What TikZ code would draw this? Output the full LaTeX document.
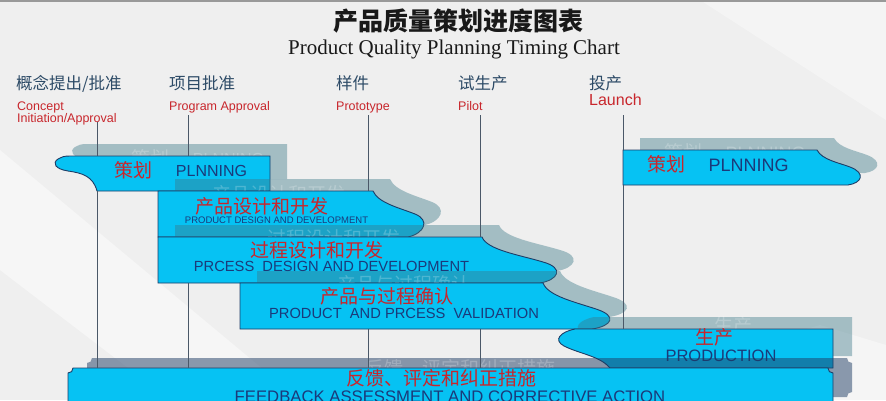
\documentclass[tikz,border=0pt]{standalone}
\usepackage{fontspec}
\setmainfont{Liberation Sans}
\newfontfamily\cjk{Noto Sans CJK SC}
\newfontfamily\tms{Liberation Serif}
\definecolor{bgc}{HTML}{EFEFEF}
\definecolor{cy}{HTML}{06C2F3}
\definecolor{edge}{HTML}{1E3C66}
\definecolor{cred}{HTML}{C8262C}
\definecolor{navy}{HTML}{1B3A7A}
\definecolor{lbl}{HTML}{2C4A66}
\definecolor{vline}{HTML}{4A5868}
\definecolor{shd}{HTML}{3C7888}
\definecolor{shdfb}{HTML}{1E3C64}
\tikzset{
 boxfill/.style={fill=cy, draw=edge, line width=0.9pt},
 shadowfill/.style={fill=shd, fill opacity=0.42},
 fbshadow/.style={fill=shdfb, fill opacity=0.5},
 cn/.style={inner sep=0pt, text=cred, font=\cjk\fontsize{19}{19}\selectfont},
 en/.style={inner sep=0pt, text=navy},
 ghost/.style={inner sep=0pt, text=white, text opacity=0.22},
 ghostcn/.style={ghost, font=\cjk\fontsize{19}{19}\selectfont},
 vl/.style={draw=vline, line width=1pt},
 ms/.style={inner sep=0pt, text=lbl, font=\cjk\fontsize{16.5}{16.5}\selectfont},
 rl/.style={inner sep=0pt, text=cred, font=\fontsize{12.5}{12.5}\selectfont},
}
\newcommand\planLpath{(97,191) .. controls (93,176) and (82,173) .. (68,171) .. controls (55,169) and (52,163) .. (58,159) .. controls (61,157) and (64,156) .. (70,156) -- (270,156) -- (270,191) -- cycle}
\newcommand\prodpath{(158,191) -- (373,191) .. controls (378,203) and (400,208) .. (415,214) .. controls (430,220) and (425,233) .. (408,237) -- (158,237) -- cycle}
\newcommand\procpath{(158,237) -- (482,237) .. controls (487,250) and (520,255) .. (543,262) .. controls (565,268) and (558,280) .. (540,283) -- (158,283) -- cycle}
\newcommand\valpath{(240,283) -- (543,283) .. controls (548,296) and (575,302) .. (596,309) .. controls (618,316) and (612,326) .. (592,329) -- (240,329) -- cycle}
\newcommand\launchpath{(623,150) -- (817,150) .. controls (822,160) and (840,163) .. (850,167) .. controls (866,173) and (862,183) .. (848,185) -- (623,185) -- cycle}
\newcommand\prdnpath{(833,329) -- (575,329) .. controls (560,332) and (553,340) .. (564,346) .. controls (580,354) and (600,356) .. (610,368) -- (833,368) -- cycle}
\newcommand\fbpath{(73,368) -- (828,368) .. controls (828,371) and (830,373) .. (833,373) -- (833,402) .. controls (830,402) and (828,404) .. (828,407) -- (73,407) .. controls (73,404) and (71,402) .. (68,402) -- (68,373) .. controls (71,373) and (73,371) .. (73,368) -- cycle}
\begin{document}
\begin{tikzpicture}[x=1pt,y=-1pt]
\useasboundingbox (0,0) rectangle (886,400);
\clip (0,0) rectangle (886,400);
\fill[bgc] (0,0) rectangle (886,400);
\fill[white, opacity=0.45] (0,150) -- (300,400) -- (170,400) -- (0,270) -- cycle;
\fill[white, opacity=0.4] (560,400) -- (820,325) -- (886,345) -- (886,400) -- cycle;
\fill[white, opacity=0.35] (700,0) -- (886,0) -- (886,120) -- cycle;
\fill[gray!80] (0,0) rectangle (886,2);
% titles
\node[inner sep=0pt, font=\cjk\bfseries\fontsize{25}{25}\selectfont, text=black!90] (title) at (458,21) {产品质量策划进度图表};
\node[inner sep=0pt, font=\tms\fontsize{21}{21}\selectfont, text=black!90] (subtitle) at (454,49) {Product Quality Planning Timing Chart};
% milestones
\node[ms, anchor=west] (m1) at (16,83.5) {概念提出/批准};
\node[rl, anchor=base west] (m1a) at (17,110) {Concept};
\node[rl, anchor=base west] (m1b) at (17,122.5) {Initiation/Approval};
\node[ms, anchor=west] (m2) at (169,83.5) {项目批准};
\node[rl, anchor=base west] (m2a) at (169,110) {Program Approval};
\node[ms, anchor=west] (m3) at (336,83.5) {样件};
\node[rl, anchor=base west] (m3a) at (336,110) {Prototype};
\node[ms, anchor=west] (m4) at (458,83.5) {试生产};
\node[rl, anchor=base west] (m4a) at (458,110) {Pilot};
\node[ms, anchor=west] (m5) at (589,83.5) {投产};
\node[rl, anchor=base west, font=\fontsize{16}{16}\selectfont] (m5a) at (589,105.5) {Launch};
% planning (left)
\begin{scope}[shift={(17,-12)}]
\fill[shadowfill] \planLpath;
\node[ghostcn] (g1a) at (133.5,170) {策划};
\node[ghost, font=\fontsize{16}{16}\selectfont] (g1b) at (211.5,171) {PLNNING};
\end{scope}
\draw[boxfill] \planLpath;
\node[cn] (p1a) at (133.5,170) {策划};
\node[en, font=\fontsize{16}{16}\selectfont] (p1b) at (211.5,171) {PLNNING};
% product design
\begin{scope}[shift={(17,-12)}]
\fill[shadowfill] \prodpath;
\node[ghostcn] (g2a) at (261.5,206) {产品设计和开发};
\end{scope}
\draw[boxfill] \prodpath;
\node[cn] (p2a) at (261.5,206) {产品设计和开发};
\node[en, font=\fontsize{9.5}{9.5}\selectfont] (p2b) at (276.5,220.5) {PRODUCT DESIGN AND DEVELOPMENT};
% process design
\begin{scope}[shift={(17,-12)}]
\fill[shadowfill] \procpath;
\node[ghostcn] (g3a) at (316.5,250) {过程设计和开发};
\end{scope}
\draw[boxfill] \procpath;
\node[cn] (p3a) at (316.5,250) {过程设计和开发};
\node[en, font=\fontsize{14.7}{14.7}\selectfont] (p3b) at (331.5,266) {PRCESS\ \ DESIGN AND DEVELOPMENT};
% validation
\begin{scope}[shift={(17,-12)}]
\fill[shadowfill] \valpath;
\node[ghostcn] (g4a) at (386.5,296) {产品与过程确认};
\end{scope}
\draw[boxfill] \valpath;
\node[cn] (p4a) at (386.5,296) {产品与过程确认};
\node[en, font=\fontsize{14.7}{14.7}\selectfont] (p4b) at (404,313) {PRODUCT\ \ AND PRCESS\ \ VALIDATION};
% launch planning
\begin{scope}[shift={(17,-12)}]
\fill[shadowfill] \launchpath;
\node[ghostcn] (g5a) at (666,164) {策划};
\node[ghost, font=\fontsize{18}{18}\selectfont] (g5b) at (748.5,165) {PLNNING};
\end{scope}
\draw[boxfill] \launchpath;
\node[cn] (p5a) at (666,164) {策划};
\node[en, font=\fontsize{18}{18}\selectfont] (p5b) at (748.5,165) {PLNNING};
% production
\begin{scope}[shift={(19,-12)}]
\fill[shadowfill] \prdnpath;
\node[ghostcn] (g6a) at (714,337) {生产};
\end{scope}
\draw[boxfill] \prdnpath;
\node[cn] (p6a) at (714,337) {生产};
\node[en, font=\fontsize{16.5}{16.5}\selectfont] (p6b) at (721,356) {PRODUCTION};
% feedback
\begin{scope}[shift={(19,-10)}]
\fill[fbshadow] \fbpath;
\node[ghostcn] (g7a) at (441,378) {反馈、评定和纠正措施};
\end{scope}
\draw[boxfill] \fbpath;
\node[cn] (p7a) at (441,378) {反馈、评定和纠正措施};
\node[en, font=\fontsize{16.7}{16.7}\selectfont] (p7b) at (450,397) {FEEDBACK ASSESSMENT AND CORRECTIVE ACTION};
% milestone lines (visible segments)
\coordinate (a1) at (97,122); \coordinate (a2) at (97,156);
\coordinate (a3) at (97,191); \coordinate (a4) at (97,368);
\draw[vl] (a1) -- (a2); \draw[vl] (a3) -- (a4);
\coordinate (b1) at (188,115); \coordinate (b2) at (188,156);
\coordinate (b3) at (188,283); \coordinate (b4) at (188,368);
\draw[vl] (b1) -- (b2); \draw[vl] (b3) -- (b4);
\coordinate (c1) at (368,115); \coordinate (c2) at (368,191);
\coordinate (c3) at (368,329); \coordinate (c4) at (368,368);
\draw[vl] (c1) -- (c2); \draw[vl] (c3) -- (c4);
\coordinate (d1) at (480,115); \coordinate (d2) at (480,237);
\coordinate (d3) at (480,329); \coordinate (d4) at (480,368);
\draw[vl] (d1) -- (d2); \draw[vl] (d3) -- (d4);
\coordinate (e1) at (623,115); \coordinate (e2) at (623,150);
\coordinate (e3) at (623,185); \coordinate (e4) at (623,329);
\draw[vl] (e1) -- (e2); \draw[vl] (e3) -- (e4);
\end{tikzpicture}
\end{document}
